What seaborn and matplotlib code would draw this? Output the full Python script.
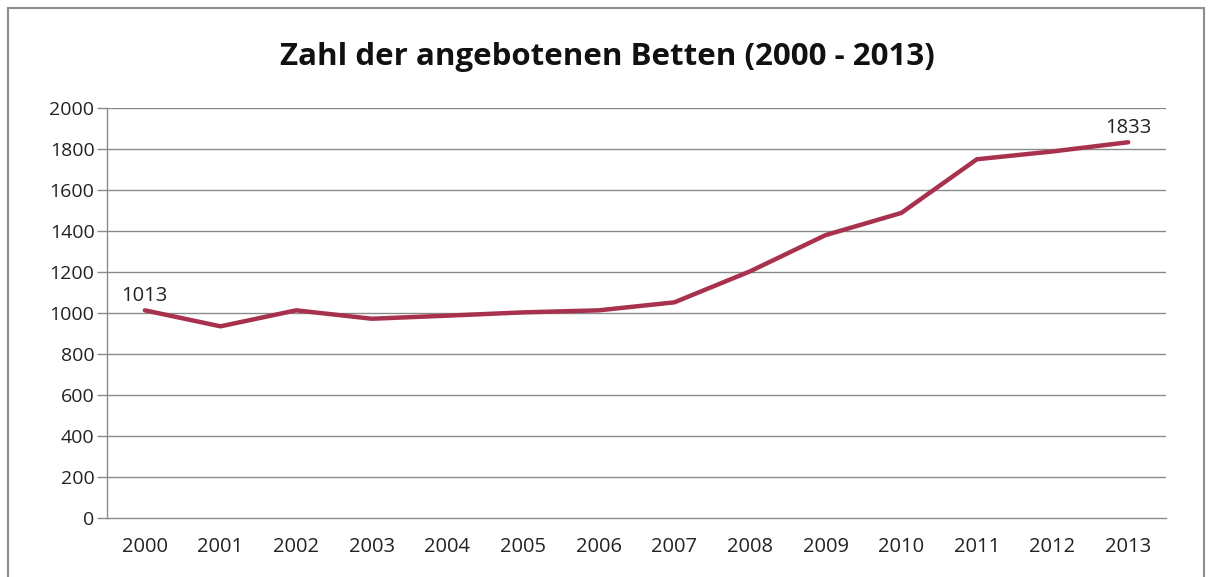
import matplotlib
matplotlib.use("Agg")
import matplotlib.pyplot as plt
import seaborn as sns
import pandas as pd
import numpy as np
from matplotlib.patches import Rectangle

years = ["2000", "2001", "2002", "2003", "2004", "2005", "2006",
         "2007", "2008", "2009", "2010", "2011", "2012", "2013"]
betten = [1013, 935, 1013, 972, 987, 1003, 1013,
          1052, 1203, 1380, 1488, 1750, 1788, 1833]
y_ticks = [0, 200, 400, 600, 800, 1000, 1200, 1400, 1600, 1800, 2000]
title = "Zahl der angebotenen Betten (2000 - 2013)"

sns.set_style("white")
plt.rcParams['font.family'] = ['Open Sans', 'DejaVu Sans']

df = pd.DataFrame({"Jahr": years, "Betten": betten})

fig = plt.figure(figsize=(12.14, 5.77), dpi=100)
ax = fig.add_axes([107/1214, 1 - 518/577, (1166 - 107)/1214, (518 - 108)/577])

# outer chart border
fig.patches.append(Rectangle((8/1214, -0.01), 1196/1214, 1 - 8/577 + 0.01,
                             transform=fig.transFigure, fill=False,
                             edgecolor="#8c8c8c", linewidth=1.5))

for yv in y_ticks[1:]:
    ax.axhline(yv, color="#8a8a8a", linewidth=1.0, zorder=0)

sns.lineplot(data=df, x="Jahr", y="Betten", ax=ax, color="#A8324E",
             linewidth=3.2, sort=False)

ax.set_xlim(-0.5, len(years) - 0.5)
ax.set_ylim(0, 2000)
ax.set_yticks(y_ticks)
ax.set_yticklabels([str(v) for v in y_ticks], fontsize=14, color="#222222")
ax.set_xticks(range(len(years)))
ax.set_xticklabels(years, fontsize=14.5, color="#222222")
ax.set_xticks(np.arange(-0.5, len(years), 1.0), minor=True)
ax.tick_params(axis="x", which="major", length=0, pad=14)
ax.tick_params(axis="x", which="minor", length=7, color="#8a8a8a", width=1)
ax.tick_params(axis="y", which="major", length=7, color="#8a8a8a", width=1, pad=2, left=True)
ax.set_xlabel("")
ax.set_ylabel("")

for side in ["top", "right"]:
    ax.spines[side].set_visible(False)
ax.spines["left"].set_color("#8a8a8a")
ax.spines["bottom"].set_color("#8a8a8a")
ax.spines["left"].set_linewidth(1.0)
ax.spines["bottom"].set_linewidth(1.0)

ax.annotate(str(betten[0]), xy=(0, betten[0]), xytext=(0, 3),
            textcoords="offset points", ha="center", va="bottom",
            fontsize=14.5, color="#222222")
ax.annotate(str(betten[-1]), xy=(len(years) - 1, betten[-1]), xytext=(0, 3),
            textcoords="offset points", ha="center", va="bottom",
            fontsize=14.5, color="#222222")

fig.text(0.5, 1 - 57/577, title, ha="center", va="center",
         fontsize=22.5, fontweight="bold", color="#111111")

fig.savefig("out.png", dpi=100)
